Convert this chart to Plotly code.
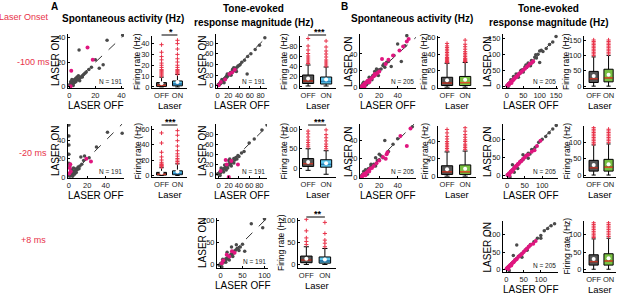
import plotly.graph_objects as go

W, H = 617, 296
FONT = "Liberation Sans, Arial, Helvetica, sans-serif"

# ---------------- labels ----------------
row_labels = ["-100 ms", "-20 ms", "+8 ms"]
box_categories = ["OFF", "ON"]
n_A, n_B = 191, 205

# ---------------- data ----------------
# A, spontaneous, -100 ms
A_spont_r1_gray_off = [0.5,1,1.5,2,2.5,3,3.5,4,4.5,5,5.5,6,7,8,9,10,11,12,3,2,6,4,8,1,2,5,7,10,13,15,17,20,23,26,29,41,7.5,2,1,0.5]
A_spont_r1_gray_on = [1,0.5,2,1.5,3,2.5,4,3.5,5,4,6,5.5,6,7,8,9,10,11,1,3,8,6,5,2.5,4,7,9,8,12,14,16,22,15,18,38,42,30,6,4,2]
A_spont_r1_mag_off = [14,18,1.5,1]
A_spont_r1_mag_on = [32,22,13,0.5]
A_spont_r1_stats_off = [0,0.5,1.5,4,9,3.5]    # lower fence, q1, median, q3, upper fence, mean
A_spont_r1_stats_on = [0,1,2.5,5.5,11.5,4.5]
A_spont_r1_out_off = [10,11,12,13,14,15,16,18,20,22,25,28,32,39]
A_spont_r1_out_on = [12,13,14,15,16,18,20,23,26,30,35,40,43]

# A, spontaneous, -20 ms
A_spont_r2_gray_off = [0,0,0,0,0,0.5,1,1.5,2,2.5,3,3.5,4,5,6,7,8,9,10,12,14,16,13,17,22,30,42,58,3,5,2,8,11,1,4,6]
A_spont_r2_gray_on = [57,45,35,25,15,2,1,3,2,4,3,5,6,4,7,6,9,8,11,12,14,18,22,23,21,33,49,48,8,10,6,5,9,12,1,3]
A_spont_r2_mag_off = [1,2,0.5,19,24,1.5]
A_spont_r2_mag_on = [10,6,4,20,17,14]
A_spont_r2_stats_off = [0,0.5,1.5,4,10,3.5]
A_spont_r2_stats_on = [0,1,2.5,6,15,5]
A_spont_r2_out_off = [11,12,13,14,15,17,20,24,30,42,55]
A_spont_r2_out_on = [16,18,20,22,25,28,32,38,45,52,58]

# A, tone-evoked, -100 ms
A_tone_r1_gray_off = [1,2,3,4,5,6,7,8,9,10,11,12,13,14,15,16,17,18,19,20,22,24,26,28,30,32,34,36,38,40,42,45,50,56,62,70,78,88,8,12,18,25,30,35,28,55]
A_tone_r1_gray_on = [2,1,4,3,6,5,8,7,10,9,12,11,14,13,16,15,19,17,20,21,21,25,24,29,28,33,30,35,37,38,40,44,48,55,60,68,76,90,12,6,22,20,34,27,31,22]
A_tone_r1_mag_off = [2,6,14,22,27,32]
A_tone_r1_mag_on = [1,7,12,22,25,30]
A_tone_r1_stats_off = [0,5,10,22,42,15]
A_tone_r1_stats_on = [0,4,9,18,38,13]
A_tone_r1_out_off = [45,48,52,56,60,65,72,80,95]
A_tone_r1_out_on = [40,44,48,52,58,64,70,78,90]

# A, tone-evoked, -20 ms
A_tone_r2_gray_off = [0,2,4,6,8,10,12,14,16,18,20,22,24,26,28,30,32,34,36,38,40,45,50,60,70,85,95,5,10,15,20,25,30,12,18,22,-2,3]
A_tone_r2_gray_on = [1,3,2,7,6,11,10,15,14,19,18,23,20,26,24,31,28,33,30,37,35,42,45,62,70,88,98,12,4,8,27,16,22,18,12,30,0,-3]
A_tone_r2_mag_off = [4,16,20,38,14,25]
A_tone_r2_mag_on = [6,19,-6,19,28,26]
A_tone_r2_stats_off = [-5,5,12,25,50,16]
A_tone_r2_stats_on = [-15,3,10,22,45,13]
A_tone_r2_out_off = [55,60,66,72,80,88,95]
A_tone_r2_out_on = [50,56,62,70,78,86,98]

# A, tone-evoked, +8 ms
A_tone_r3_gray_off = [0,2,4,6,8,10,12,14,16,18,20,22,24,26,28,30,32,35,38,40,45,50,55,70,96,100,5,12,20,28,36,42,15,25,-3,3]
A_tone_r3_gray_on = [2,1,5,4,9,8,13,12,16,15,20,19,24,22,28,26,31,33,37,36,40,46,30,93,84,104,12,5,10,18,45,32,28,40,-2,-5]
A_tone_r3_mag_off = [6,32,14,20,3,26]
A_tone_r3_mag_on = [9,27,22,18,3,30]
A_tone_r3_stats_off = [0,4,10,19,40,13]
A_tone_r3_stats_on = [0,3,8,17,36,11]
A_tone_r3_out_off = [45,52,60,76,102]
A_tone_r3_out_on = [40,48,55,70,95]

# B, spontaneous, -100 ms
B_spont_r1_gray_off = [0.5,1,2,3,4,5,6,7,8,9,10,11,12,13,14,15,16,18,20,22,24,26,28,30,33,36,40,44,48,50,3,6,9,12,15,19,25,8,2,17]
B_spont_r1_gray_on = [1,2,1.5,3,4,4.5,6,7,7.5,9,10,10,12,14,13,16,15,19,21,22,26,24,30,31,25,38,52,31,50,62,6,3,12,9,19,14,28,5,4,22]
B_spont_r1_mag_off = [1,2,3,4,5,6,7,8,10,12,14,16,18,20,23,27,30,35,42,46,50,52,4,9,15]
B_spont_r1_mag_on = [0.5,2,2.5,4,5,5.5,7,8,9,11,13,15,17,19,34,28,33,38,44,49,55,58,1,6,16]
B_spont_r1_stats_off = [0,2,5,12,29,8.5]
B_spont_r1_stats_on = [0,2,5.5,13,30,9]
B_spont_r1_out_off = [30,31,32,33,34,35,36,38,40,42,44,46,48,50,53]
B_spont_r1_out_on = [31,32,33,34,35,37,39,41,43,46,49,52,57]

# B, spontaneous, -20 ms
B_spont_r2_gray_off = [0.5,1,2,3,4,5,6,7,8,9,10,11,12,14,16,18,20,22,24,26,30,35,40,56,3,7,11,16,20,5]
B_spont_r2_gray_on = [1,2,3,2,4,5,5,7,9,8,10,12,11,14,21,18,19,23,21,40,28,36,42,55,6,3,14,12,25,8]
B_spont_r2_mag_off = [1,2,3,4,6,8,10,12,14,17,20,24,27,28,29,43,50,54,5,9]
B_spont_r2_mag_on = [0.5,1.5,3,3.5,5,7,9,10,12,15,18,22,20,25,27,45,34,53,2,6]
B_spont_r2_stats_off = [0,2,5,12,28,8]
B_spont_r2_stats_on = [0,2,5,13,29,8.5]
B_spont_r2_out_off = [30,32,34,36,38,40,43,46,50,54]
B_spont_r2_out_on = [31,33,35,37,40,42,45,48,52,56]

# B, tone-evoked, -100 ms
B_tone_r1_gray_off = [0,5,10,15,20,25,30,35,40,45,50,55,60,65,70,75,80,85,90,95,100,105,110,120,130,140,150,12,28,42,58,72,88,100,20,35,50,65,3]
B_tone_r1_gray_on = [2,8,12,18,22,28,32,38,40,50,52,60,58,70,65,80,75,90,88,100,74,112,108,118,130,138,155,20,38,48,66,64,98,110,30,28,44,72,-3]
B_tone_r1_mag_off = [1,3,5,8,10,12,15,18,20,22,25,28,30,33,36,40,45,50,55,60,65,70,75,80,6,14]
B_tone_r1_mag_on = [1,4,6,8,11,12,15,19,20,23,26,28,31,33,37,41,45,50,54,60,64,70,72,78,3,10]
B_tone_r1_stats_off = [0,12,24,48,95,33]
B_tone_r1_stats_on = [0,14,27,55,100,37]
B_tone_r1_out_off = [100,105,110,115,120,125,130,135,140,145,150]
B_tone_r1_out_on = [105,110,115,120,125,130,135,140,145,150]

# B, tone-evoked, -20 ms
B_tone_r2_gray_off = [0,5,10,15,20,25,30,35,40,45,50,55,60,65,70,80,90,100,110,120,130,140,30,45,60,75,15,20,8]
B_tone_r2_gray_on = [2,6,12,16,22,26,32,36,42,44,52,55,62,60,72,78,92,100,108,118,128,138,20,58,48,70,30,10,-3]
B_tone_r2_mag_off = [1,3,5,8,10,12,15,18,20,22,25,28,30,33,36,40,45,50,55,60,70,78,85,95,6,14]
B_tone_r2_mag_on = [2,3,6,8,11,13,16,18,21,24,26,28,32,33,38,40,46,50,56,58,66,70,82,96,1,12]
B_tone_r2_stats_off = [0,12,22,45,92,31]
B_tone_r2_stats_on = [0,12,24,48,95,33]
B_tone_r2_out_off = [95,100,105,110,115,120,125,130,135,140,145]
B_tone_r2_out_on = [100,105,110,115,120,125,130,135,140]

# B, tone-evoked, +8 ms
B_tone_r3_gray_off = [0,5,10,15,20,25,30,35,40,45,50,55,60,65,70,80,90,100,110,120,130,140,30,45,60,20,8,100]
B_tone_r3_gray_on = [2,7,11,17,21,27,31,37,41,46,50,56,60,66,72,80,90,98,112,118,126,132,70,35,55,40,-4,90]
B_tone_r3_mag_off = [1,3,5,8,10,12,15,18,20,22,25,28,30,35,40,45,50,55,60,65,70,78,85,6,14]
B_tone_r3_mag_on = [2,4,5,9,10,13,15,19,20,22,26,28,30,36,40,44,50,55,60,65,70,74,82,1,11]
B_tone_r3_stats_off = [0,12,22,42,88,30]
B_tone_r3_stats_on = [0,12,24,45,90,32]
B_tone_r3_out_off = [92,96,100,105,110,115,120,125,130,135]
B_tone_r3_out_on = [95,100,105,110,115,120,125,130,135]

# ---------------- styles ----------------
RED_TXT = "#e8334a"
GRAY = "#4a4a4a"
MAG = "#e0167f"
OUT_RED = "#e8334a"
OFF_FILL = "#555555"
OFF_MED = "#c0392b"
A_ON_FILL = "#5cc6ec"
A_ON_MED = "#2a7fb8"
B_ON_FILL = "#79c143"
B_ON_MED = "#e0552a"

fig = go.Figure()
axes_layout = {}
annotations = []
shapes = []
counter = [0]


def px_x(x):
    return x / W


def px_y(y):
    return 1 - y / H


def make_axes(xpx, ypx, xr, yr, xt, yt, xtt=None):
    counter[0] += 1
    n = counter[0]
    s = "" if n == 1 else str(n)
    base = dict(showline=True, linecolor="black", linewidth=1, ticks="inside",
                ticklen=2, tickwidth=1, tickcolor="black", showgrid=False,
                zeroline=False, tickfont=dict(size=7.5, color="#1a1a1a", family=FONT),
                tickmode="array", fixedrange=True, automargin=False, tickangle=0)
    xa = dict(base, domain=[px_x(xpx[0]), px_x(xpx[1])], range=xr, anchor="y" + s, tickvals=xt)
    if xtt is not None:
        xa["ticktext"] = xtt
    ya = dict(base, domain=[px_y(ypx[1]), px_y(ypx[0])], range=yr, anchor="x" + s, tickvals=yt)
    axes_layout["xaxis" + s] = xa
    axes_layout["yaxis" + s] = ya
    return "x" + s, "y" + s


def text(x, y, t, size=9, color="black", bold=False, angle=0, xanchor="center", yanchor="middle"):
    annotations.append(dict(x=px_x(x), y=px_y(y), xref="paper", yref="paper",
                            text=("<b>%s</b>" % t) if bold else t, showarrow=False,
                            font=dict(size=size, color=color, family=FONT), textangle=angle,
                            xanchor=xanchor, yanchor=yanchor))


def scatter_panel(xpx, ypx, xr, yr, xt, yt, g_off, g_on, m_off, m_on, n, lab_off=13):
    xa, ya = make_axes(xpx, ypx, xr, yr, xt, yt)
    lim = min(xr[1], yr[1])
    fig.add_trace(go.Scatter(x=[0, lim], y=[0, lim], mode="lines",
                             line=dict(color="#333333", width=1, dash="dash"),
                             xaxis=xa, yaxis=ya, showlegend=False, hoverinfo="skip"))
    fig.add_trace(go.Scatter(x=g_off, y=g_on, mode="markers",
                             marker=dict(color=GRAY, size=3.5), xaxis=xa, yaxis=ya,
                             showlegend=False))
    fig.add_trace(go.Scatter(x=m_off, y=m_on, mode="markers",
                             marker=dict(color=MAG, size=4), xaxis=xa, yaxis=ya,
                             showlegend=False))
    annotations.append(dict(xref=xa + " domain", yref=ya + " domain", x=1, y=0.02,
                            xanchor="right", yanchor="bottom", text="N = %d" % n,
                            showarrow=False, font=dict(size=6.5, color="#1a1a1a", family=FONT)))
    text(xpx[0] - lab_off, (ypx[0] + ypx[1]) / 2, "LASER ON", size=10, angle=-90)
    text((xpx[0] + xpx[1]) / 2, ypx[1] + 17, "LASER OFF", size=10)


def box_panel(xpx, ypx, xr, yr, yt, s_off, s_on, o_off, o_on, on_fill, on_med, sig, lab_off=15):
    xa, ya = make_axes(xpx, ypx, xr, yr, [0, 1], yt, box_categories)
    axes_layout["xaxis" + xa[1:]]["ticks"] = ""
    bw = 0.62
    for pos, s, outs, fill, med in ((0, s_off, o_off, OFF_FILL, OFF_MED),
                                   (1, s_on, o_on, on_fill, on_med)):
        fig.add_trace(go.Box(x=[pos], lowerfence=[s[0]], q1=[s[1]], median=[s[2]],
                             q3=[s[3]], upperfence=[s[4]], fillcolor=fill,
                             line=dict(color="black", width=1), width=bw,
                             whiskerwidth=0.45, boxpoints=False, xaxis=xa, yaxis=ya,
                             showlegend=False, hoverinfo="skip"))
        fig.add_trace(go.Scatter(x=[pos - bw / 2 + 0.03, pos + bw / 2 - 0.03], y=[s[2], s[2]],
                                 mode="lines", line=dict(color=med, width=1.5),
                                 xaxis=xa, yaxis=ya, showlegend=False, hoverinfo="skip"))
        fig.add_trace(go.Scatter(x=[pos] * len(outs), y=outs, mode="markers",
                                 marker=dict(symbol="cross-thin", size=3,
                                             line=dict(width=1, color=OUT_RED), color=OUT_RED),
                                 xaxis=xa, yaxis=ya, showlegend=False))
        fig.add_trace(go.Scatter(x=[pos], y=[s[5]], mode="markers",
                                 marker=dict(color="white", size=4, symbol="circle"),
                                 xaxis=xa, yaxis=ya, showlegend=False))
    text(xpx[0] - lab_off, (ypx[0] + ypx[1]) / 2, "Firing rate (Hz)", size=8.5, angle=-90)
    text((xpx[0] + xpx[1]) / 2, ypx[1] + 17, "Laser", size=9.5)
    if sig:
        shapes.append(dict(type="line", xref=xa, yref="paper", x0=0, x1=1,
                           y0=px_y(ypx[0] - 1), y1=px_y(ypx[0] - 1),
                           line=dict(color="black", width=1)))
        text((xpx[0] + xpx[1]) / 2 + 1, ypx[0] - 4, sig, size=9, bold=True)


# ---------------- panel layout (pixel geometry) ----------------
R1S, R1B = (34, 88), (36, 88)
R2S, R2B = (124, 178), (126, 177)
R3AS, R3AB = (218, 268), (218, 268)
R3BS, R3BB = (221, 272), (221, 272)

# A spontaneous
scatter_panel((68, 124), R1S, [-1, 42], [-1, 43], [0, 20, 40], [0, 20, 40],
              A_spont_r1_gray_off, A_spont_r1_gray_on, A_spont_r1_mag_off, A_spont_r1_mag_on, n_A)
box_panel((152, 187), R1B, [-0.6, 1.6], [-1, 47], [0, 10, 20, 30, 40],
          A_spont_r1_stats_off, A_spont_r1_stats_on, A_spont_r1_out_off, A_spont_r1_out_on,
          A_ON_FILL, A_ON_MED, "*")
scatter_panel((68, 124), R2S, [-1, 60], [-1, 58], [0, 20, 40], [0, 20, 40],
              A_spont_r2_gray_off, A_spont_r2_gray_on, A_spont_r2_mag_off, A_spont_r2_mag_on, n_A)
box_panel((152, 187), R2B, [-0.6, 1.6], [-2, 64], [0, 20, 40, 60],
          A_spont_r2_stats_off, A_spont_r2_stats_on, A_spont_r2_out_off, A_spont_r2_out_on,
          A_ON_FILL, A_ON_MED, "***")

# A tone-evoked
scatter_panel((216, 267), R1S, [-3, 92], [-4, 97], [0, 20, 40, 60, 80], [0, 20, 40, 60, 80],
              A_tone_r1_gray_off, A_tone_r1_gray_on, A_tone_r1_mag_off, A_tone_r1_mag_on, n_A, 14)
box_panel((300, 336), R1B, [-0.45, 1.55], [-4, 100], [0, 20, 40, 60, 80],
          A_tone_r1_stats_off, A_tone_r1_stats_on, A_tone_r1_out_off, A_tone_r1_out_on,
          A_ON_FILL, A_ON_MED, "***", lab_off=16)
scatter_panel((216, 267), R2S, [-5, 95], [-8, 100], [0, 20, 40, 60, 80], [0, 20, 40, 60, 80],
              A_tone_r2_gray_off, A_tone_r2_gray_on, A_tone_r2_mag_off, A_tone_r2_mag_on, n_A, 14)
box_panel((300, 336), R2B, [-0.45, 1.55], [-22, 108], [0, 50, 100],
          A_tone_r2_stats_off, A_tone_r2_stats_on, A_tone_r2_out_off, A_tone_r2_out_on,
          A_ON_FILL, A_ON_MED, "***", lab_off=17)
scatter_panel((217, 268), R3AS, [-8, 108], [-8, 106], [0, 50, 100], [0, 50, 100],
              A_tone_r3_gray_off, A_tone_r3_gray_on, A_tone_r3_mag_off, A_tone_r3_mag_on, n_A, 15)
box_panel((298, 336), R3AB, [-0.45, 1.6], [-8, 105], [0, 50, 100],
          A_tone_r3_stats_off, A_tone_r3_stats_on, A_tone_r3_out_off, A_tone_r3_out_on,
          A_ON_FILL, A_ON_MED, "**", lab_off=17)

# B spontaneous
scatter_panel((360, 416), R1S, [-1, 60], [-1, 64], [0, 20, 40], [0, 20, 40],
              B_spont_r1_gray_off, B_spont_r1_gray_on, B_spont_r1_mag_off, B_spont_r1_mag_on, n_B, 12)
box_panel((438, 476), R1B, [-0.5, 1.6], [-1, 62], [0, 20, 40, 60],
          B_spont_r1_stats_off, B_spont_r1_stats_on, B_spont_r1_out_off, B_spont_r1_out_on,
          B_ON_FILL, B_ON_MED, None, lab_off=14)
scatter_panel((360, 416), R2S, [-1, 60], [-1, 58], [0, 20, 40], [0, 20, 40],
              B_spont_r2_gray_off, B_spont_r2_gray_on, B_spont_r2_mag_off, B_spont_r2_mag_on, n_B, 12)
box_panel((438, 476), R2B, [-0.5, 1.6], [-1, 58], [0, 20, 40],
          B_spont_r2_stats_off, B_spont_r2_stats_on, B_spont_r2_out_off, B_spont_r2_out_on,
          B_ON_FILL, B_ON_MED, None, lab_off=14)

# B tone-evoked
scatter_panel((503, 558), R1S, [-12, 156], [-6, 163], [0, 50, 100, 150], [0, 50, 100, 150],
              B_tone_r1_gray_off, B_tone_r1_gray_on, B_tone_r1_mag_off, B_tone_r1_mag_on, n_B, 16)
box_panel((584, 616), R1B, [-0.65, 1.5], [-6, 163], [0, 50, 100, 150],
          B_tone_r1_stats_off, B_tone_r1_stats_on, B_tone_r1_out_off, B_tone_r1_out_on,
          B_ON_FILL, B_ON_MED, None, lab_off=18)
scatter_panel((503, 558), R2S, [-12, 145], [-6, 142], [0, 50, 100], [0, 50, 100],
              B_tone_r2_gray_off, B_tone_r2_gray_on, B_tone_r2_mag_off, B_tone_r2_mag_on, n_B, 16)
box_panel((584, 616), R2B, [-0.65, 1.5], [-6, 150], [0, 50, 100],
          B_tone_r2_stats_off, B_tone_r2_stats_on, B_tone_r2_out_off, B_tone_r2_out_on,
          B_ON_FILL, B_ON_MED, None, lab_off=18)
scatter_panel((503, 558), R3BS, [-10, 150], [-8, 140], [0, 50, 100], [0, 50, 100],
              B_tone_r3_gray_off, B_tone_r3_gray_on, B_tone_r3_mag_off, B_tone_r3_mag_on, n_B, 16)
box_panel((584, 616), R3BB, [-0.65, 1.5], [-8, 140], [0, 50, 100],
          B_tone_r3_stats_off, B_tone_r3_stats_on, B_tone_r3_out_off, B_tone_r3_out_on,
          B_ON_FILL, B_ON_MED, None, lab_off=18)

# ---------------- headings ----------------
text(24, 17, "Laser Onset", size=9, color=RED_TXT)
for lab, yy in zip(row_labels, (62, 153, 240)):
    text(33, yy, lab, size=9, color=RED_TXT)
text(54, 6, "A", size=10, bold=True)
text(344, 6, "B", size=10, bold=True)
text(123, 18, "Spontaneous activity (Hz)", size=10, bold=True)
text(253, 9, "Tone-evoked", size=10, bold=True)
text(253, 22, "response magnitude (Hz)", size=10, bold=True)
text(412, 18, "Spontaneous activity (Hz)", size=10, bold=True)
text(548, 9, "Tone-evoked", size=10, bold=True)
text(548, 22, "response magnitude (Hz)", size=10, bold=True)

fig.update_layout(width=W, height=H, margin=dict(l=0, r=0, t=0, b=0),
                  paper_bgcolor="white", plot_bgcolor="white",
                  font=dict(family=FONT, size=9, color="black"),
                  annotations=annotations, shapes=shapes, showlegend=False, **axes_layout)

fig.write_html("out.html", config={"displayModeBar": False},
               post_script="document.body.style.margin='0';document.body.style.overflow='hidden';")
